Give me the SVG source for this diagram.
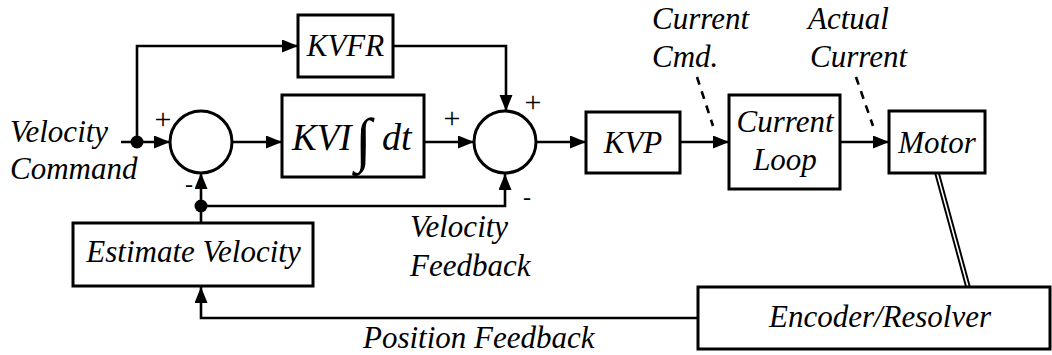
<svg xmlns="http://www.w3.org/2000/svg" width="1052" height="355" viewBox="0 0 1052 355">
  <defs>
    <marker id="arrow" markerUnits="userSpaceOnUse" markerWidth="17" markerHeight="14" refX="16" refY="6.5" orient="auto">
      <path d="M0,0 L16,6.5 L0,13 Z" fill="#000"/>
    </marker>
  </defs>

  <rect width="1052" height="355" fill="#fff"/>

  <!-- connectors -->
  <g id="connectors" fill="none" stroke="#000" stroke-width="2.6">
    <!-- command input into first summer -->
    <line x1="121" y1="142" x2="170" y2="142" marker-end="url(#arrow)"/>
    <!-- feed-forward branch -->
    <polyline points="137,142 137,46 298,46" marker-end="url(#arrow)"/>
    <polyline points="393,46 506,46 506,111" marker-end="url(#arrow)"/>
    <!-- forward path -->
    <line x1="232" y1="142" x2="282" y2="142" marker-end="url(#arrow)"/>
    <line x1="424" y1="142" x2="474" y2="142" marker-end="url(#arrow)"/>
    <line x1="537" y1="142" x2="586" y2="142" marker-end="url(#arrow)"/>
    <line x1="680" y1="142" x2="729" y2="142" marker-end="url(#arrow)"/>
    <line x1="840" y1="142" x2="889" y2="142" marker-end="url(#arrow)"/>
    <!-- velocity feedback -->
    <line x1="201" y1="223" x2="201" y2="173" marker-end="url(#arrow)"/>
    <polyline points="201,206 505,206 505,174" marker-end="url(#arrow)"/>
    <!-- position feedback -->
    <polyline points="698,318 201,318 201,287" marker-end="url(#arrow)"/>
    <!-- motor shaft to encoder -->
    <line x1="937" y1="173" x2="968" y2="287" stroke-width="5.5"/>
    <line x1="937" y1="173" x2="968" y2="287" stroke="#fff" stroke-width="1.6"/>
    <!-- signal tags -->
    <line x1="697" y1="77" x2="713" y2="126" stroke-dasharray="8 7"/>
    <line x1="856" y1="77" x2="873" y2="126" stroke-dasharray="8 7"/>
    <!-- pickoff points -->
    <circle cx="137" cy="142" r="6.5" fill="#000" stroke="none"/>
    <circle cx="201" cy="206" r="6.5" fill="#000" stroke="none"/>
  </g>

  <g id="sum1">
    <circle cx="201" cy="142" r="31" fill="#fff" stroke="#000" stroke-width="3"/>
    <text x="163" y="129" font-family="'Liberation Serif', 'Times New Roman', serif" font-size="30" text-anchor="middle">+</text>
    <text x="189" y="192" font-family="'Liberation Serif', 'Times New Roman', serif" font-size="24" text-anchor="middle">-</text>
  </g>

  <g id="sum2">
    <circle cx="505" cy="142" r="31" fill="#fff" stroke="#000" stroke-width="3"/>
    <text x="452" y="128" font-family="'Liberation Serif', 'Times New Roman', serif" font-size="30" text-anchor="middle">+</text>
    <text x="533" y="112" font-family="'Liberation Serif', 'Times New Roman', serif" font-size="30" text-anchor="middle">+</text>
    <text x="527" y="205" font-family="'Liberation Serif', 'Times New Roman', serif" font-size="24" text-anchor="middle">-</text>
  </g>

  <g id="kvfr">
    <rect x="298" y="15" width="95" height="62" fill="#fff" stroke="#000" stroke-width="3"/>
    <text x="345.5" y="56" font-family="'Liberation Serif', 'Times New Roman', serif" font-style="italic" font-size="31" text-anchor="middle">KVFR</text>
  </g>

  <g id="kvi">
    <rect x="282" y="95" width="142" height="82" fill="#fff" stroke="#000" stroke-width="3"/>
    <text x="292" y="150" font-family="'Liberation Serif', 'Times New Roman', serif" font-style="italic" font-size="37">KVI</text>
    <text x="355" y="160" font-family="'Liberation Serif', 'Times New Roman', serif" font-style="italic" font-size="60">∫</text>
    <text x="382" y="150" font-family="'Liberation Serif', 'Times New Roman', serif" font-style="italic" font-size="38">dt</text>
  </g>

  <g id="kvp">
    <rect x="586" y="112" width="94" height="61" fill="#fff" stroke="#000" stroke-width="3"/>
    <text x="633" y="153" font-family="'Liberation Serif', 'Times New Roman', serif" font-style="italic" font-size="31" text-anchor="middle">KVP</text>
  </g>

  <g id="current-loop">
    <rect x="729" y="95" width="111" height="94" fill="#fff" stroke="#000" stroke-width="3"/>
    <text x="785" y="132" font-family="'Liberation Serif', 'Times New Roman', serif" font-style="italic" font-size="31" text-anchor="middle">Current</text>
    <text x="785" y="170" font-family="'Liberation Serif', 'Times New Roman', serif" font-style="italic" font-size="31" text-anchor="middle">Loop</text>
  </g>

  <g id="motor">
    <rect x="889" y="111" width="96" height="62" fill="#fff" stroke="#000" stroke-width="3"/>
    <text x="937" y="153" font-family="'Liberation Serif', 'Times New Roman', serif" font-style="italic" font-size="31" text-anchor="middle">Motor</text>
  </g>

  <g id="estimate-velocity">
    <rect x="73" y="223" width="240" height="63" fill="#fff" stroke="#000" stroke-width="3"/>
    <text x="193.5" y="262" font-family="'Liberation Serif', 'Times New Roman', serif" font-style="italic" font-size="31" text-anchor="middle">Estimate Velocity</text>
  </g>

  <g id="encoder">
    <rect x="698" y="287" width="352" height="62" fill="#fff" stroke="#000" stroke-width="3"/>
    <text x="880" y="327" font-family="'Liberation Serif', 'Times New Roman', serif" font-style="italic" font-size="31" text-anchor="middle">Encoder/Resolver</text>
  </g>

  <!-- free labels -->
  <g id="labels">
    <text x="10" y="142" font-family="'Liberation Serif', 'Times New Roman', serif" font-style="italic" font-size="31">Velocity</text>
    <text x="10" y="179" font-family="'Liberation Serif', 'Times New Roman', serif" font-style="italic" font-size="31">Command</text>
    <text x="410" y="237" font-family="'Liberation Serif', 'Times New Roman', serif" font-style="italic" font-size="31">Velocity</text>
    <text x="410" y="276" font-family="'Liberation Serif', 'Times New Roman', serif" font-style="italic" font-size="31">Feedback</text>
    <text x="363" y="348" font-family="'Liberation Serif', 'Times New Roman', serif" font-style="italic" font-size="31">Position Feedback</text>
    <text x="652" y="29" font-family="'Liberation Serif', 'Times New Roman', serif" font-style="italic" font-size="31">Current</text>
    <text x="652" y="67" font-family="'Liberation Serif', 'Times New Roman', serif" font-style="italic" font-size="31">Cmd.</text>
    <text x="808" y="29" font-family="'Liberation Serif', 'Times New Roman', serif" font-style="italic" font-size="31">Actual</text>
    <text x="810" y="67" font-family="'Liberation Serif', 'Times New Roman', serif" font-style="italic" font-size="31">Current</text>
  </g>
</svg>
